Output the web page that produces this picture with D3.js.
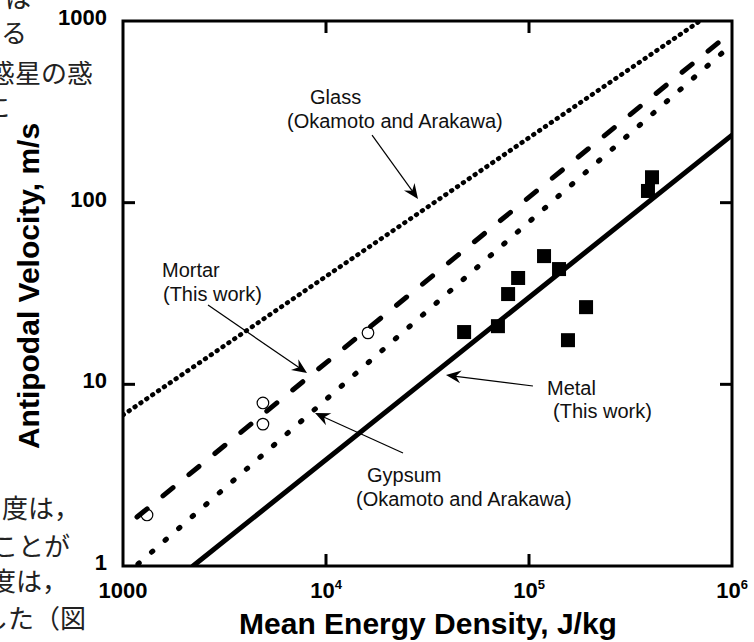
<!DOCTYPE html>
<html>
<head>
<meta charset="utf-8">
<script src="https://cdn.jsdelivr.net/npm/d3@7"></script>
<style>
  body { margin: 0; background: #fff; }
  svg { display: block; }
</style>
</head>
<body>
<div id="chart"></div>
<script>
// Mortar targets (open circles), this work
const mortarEnergy = [1313, 4890, 4890, 16100];
const mortarVelocity = [1.91, 7.9, 6.04, 19.2];

// Metal targets (filled squares), this work
const metalEnergy = [47900, 70300, 78900, 88400, 118600, 140600, 191000, 155600, 403600, 385500];
const metalVelocity = [19.4, 20.9, 31.4, 38.5, 50.8, 43.1, 26.6, 17.5, 138, 116];

// Fitted lines: end points
const fitNames = ["Glass", "Mortar", "Gypsum", "Metal"];
const fitStartEnergy = [1000, 1172, 1186, 2213];
const fitStartVelocity = [6.78, 1.86, 1.026, 1];
const fitEndEnergy = [695000, 1000000, 893000, 1000000];
const fitEndVelocity = [1000, 875, 666, 235.5];

const noteLines = [
    ["Glass", "(Okamoto and Arakawa)"],
    ["Mortar", "(This work)"],
    ["Gypsum", "(Okamoto and Arakawa)"],
    ["Metal", "(This work)"]
];

const xTicks = [1000, 1e4, 1e5, 1e6];
const xTickBase = ["1000", "10", "10", "10"];
const xTickExp = ["", "4", "5", "6"];
const yTicks = [1, 10, 100, 1000];
const yTickLabels = ["1", "10", "100", "1000"];

// Text of the page that is cut by the left edge
const pageText = ["は", "る", "惑星の惑", "に", "度は，", "ことが", "度は，", "した（図"];

// ---- layout ----
const width = 754, height = 642;
const plotLeft = 123, plotRight = 732, plotTop = 21, plotBottom = 566;

const svg = d3.select("#chart")
    .append("svg")
    .attr("width", width)
    .attr("height", height)
    .style("font-family", "'Liberation Sans', Arial, Helvetica, sans-serif");

const x = d3.scaleLog().domain([1000, 1e6]).range([plotLeft, plotRight]);
const y = d3.scaleLog().domain([1, 1000]).range([plotBottom, plotTop]);

// page text fragments (right end x, baseline y)
const pagePos = [[31, 8], [27, 43], [93, 83], [10, 117], [80, 518], [70, 556], [68, 591], [86, 628]];
svg.append("g")
    .selectAll("text")
    .data(pageText)
    .enter()
    .append("text")
    .attr("x", (d, i) => pagePos[i][0])
    .attr("y", (d, i) => pagePos[i][1])
    .attr("text-anchor", "end")
    .style("font-family", "'Noto Sans CJK JP', sans-serif")
    .style("font-size", "26px")
    .attr("fill", "#222")
    .text(d => d);

svg.append("clipPath")
    .attr("id", "plotClip")
    .append("rect")
    .attr("x", plotLeft)
    .attr("y", plotTop)
    .attr("width", plotRight - plotLeft)
    .attr("height", plotBottom - plotTop);

const plot = svg.append("g").attr("clip-path", "url(#plotClip)");

// open circles
plot.selectAll(".mortar")
    .data(d3.zip(mortarEnergy, mortarVelocity))
    .enter()
    .append("circle")
    .attr("class", "mortar")
    .attr("cx", d => x(d[0]))
    .attr("cy", d => y(d[1]))
    .attr("r", 5.8)
    .attr("fill", "#fff")
    .attr("stroke", "#000")
    .attr("stroke-width", 1.2);

// fitted lines
const fitStyle = {
    Glass:  { w: 4.6, dash: "0.8 6.3" },
    Mortar: { w: 5,   dash: "13 20.5" },
    Gypsum: { w: 5.2, dash: "1.5 16.5" },
    Metal:  { w: 5,   dash: null }
};
fitNames.forEach((name, i) => {
    const p = plot.append("path")
        .attr("d", d3.line()([
            [x(fitStartEnergy[i]), y(fitStartVelocity[i])],
            [x(fitEndEnergy[i]), y(fitEndVelocity[i])]
        ]))
        .attr("fill", "none")
        .attr("stroke", "#000")
        .attr("stroke-width", fitStyle[name].w)
        .attr("stroke-linecap", "round");
    if (fitStyle[name].dash) p.attr("stroke-dasharray", fitStyle[name].dash);
});

// filled squares
const sq = 14;
plot.selectAll(".metal")
    .data(d3.zip(metalEnergy, metalVelocity))
    .enter()
    .append("rect")
    .attr("class", "metal")
    .attr("x", d => x(d[0]) - sq / 2)
    .attr("y", d => y(d[1]) - sq / 2)
    .attr("width", sq)
    .attr("height", sq)
    .attr("fill", "#000");

// annotations, anchored in data units
const notes = [
    { at: [8343, 349],    dx2: -23, dy2: 24, from: [16860, 235.5], to: [28390, 104.8] },
    { at: [1556, 39.0],   dx2: 1,   dy2: 24, from: [2623, 27.3],   to: [8062, 11.54] },
    { at: [15920, 2.90],  dx2: -11, dy2: 24, from: [23950, 4.19],  to: [8828, 6.95] },
    { at: [122700, 8.74], dx2: 6,   dy2: 23, from: [104600, 9.79], to: [39000, 11.25] }
];

notes.forEach((n, i) => {
    const x0 = x(n.from[0]), y0 = y(n.from[1]);
    const x1 = x(n.to[0]), y1 = y(n.to[1]);
    const len = Math.hypot(x1 - x0, y1 - y0);
    const ux = (x1 - x0) / len, uy = (y1 - y0) / len;
    const nx = -uy, ny = ux;
    const L = 15, Wd = 6.5, N = 10;

    svg.append("line")
        .attr("x1", x0).attr("y1", y0)
        .attr("x2", x1 - ux * 4).attr("y2", y1 - uy * 4)
        .attr("stroke", "#000")
        .attr("stroke-width", 1.2);

    const head = [
        [x1, y1],
        [x1 - ux * L + nx * Wd, y1 - uy * L + ny * Wd],
        [x1 - ux * N, y1 - uy * N],
        [x1 - ux * L - nx * Wd, y1 - uy * L - ny * Wd]
    ];
    svg.append("path")
        .attr("d", "M" + head.map(p => p.join(",")).join("L") + "Z")
        .attr("fill", "#000");

    const t = svg.append("text")
        .attr("x", x(n.at[0]))
        .attr("y", y(n.at[1]))
        .style("font-size", "20px")
        .attr("fill", "#111");
    t.append("tspan").text(noteLines[i][0]);
    t.append("tspan")
        .attr("x", x(n.at[0]) + n.dx2)
        .attr("dy", n.dy2)
        .text(noteLines[i][1]);
});

// inner ticks
const tickLen = 12;
const tickG = svg.append("g").attr("stroke", "#000").attr("stroke-width", 3);
[1e4, 1e5].forEach(v => {
    tickG.append("line").attr("x1", x(v)).attr("x2", x(v)).attr("y1", plotBottom).attr("y2", plotBottom - tickLen);
    tickG.append("line").attr("x1", x(v)).attr("x2", x(v)).attr("y1", plotTop).attr("y2", plotTop + tickLen);
});
[10, 100].forEach(v => {
    tickG.append("line").attr("y1", y(v)).attr("y2", y(v)).attr("x1", plotLeft).attr("x2", plotLeft + tickLen);
    tickG.append("line").attr("y1", y(v)).attr("y2", y(v)).attr("x1", plotRight).attr("x2", plotRight - tickLen);
});

// frame
svg.append("rect")
    .attr("x", plotLeft)
    .attr("y", plotTop)
    .attr("width", plotRight - plotLeft)
    .attr("height", plotBottom - plotTop)
    .attr("fill", "none")
    .attr("stroke", "#000")
    .attr("stroke-width", 3);

// tick labels
const xl = svg.append("g")
    .selectAll("text")
    .data(xTicks)
    .enter()
    .append("text")
    .attr("x", d => x(d))
    .attr("y", 598)
    .attr("text-anchor", "middle")
    .style("font-size", "22px")
    .style("font-weight", "bold");
xl.append("tspan").text((d, i) => xTickBase[i]);
xl.append("tspan")
    .attr("dy", -9)
    .style("font-size", "13px")
    .text((d, i) => xTickExp[i]);

svg.append("g")
    .selectAll("text")
    .data(yTicks)
    .enter()
    .append("text")
    .attr("x", 107)
    .attr("y", d => y(d) + 4)
    .attr("text-anchor", "end")
    .style("font-size", "22px")
    .style("font-weight", "bold")
    .text((d, i) => yTickLabels[i]);

// axis titles
svg.append("text")
    .attr("x", 428)
    .attr("y", 634)
    .attr("text-anchor", "middle")
    .style("font-size", "30px")
    .style("font-weight", "bold")
    .text("Mean Energy Density, J/kg");

svg.append("text")
    .attr("transform", "translate(39,286) rotate(-90)")
    .attr("text-anchor", "middle")
    .style("font-size", "30px")
    .style("font-weight", "bold")
    .text("Antipodal Velocity, m/s");
</script>
</body>
</html>
